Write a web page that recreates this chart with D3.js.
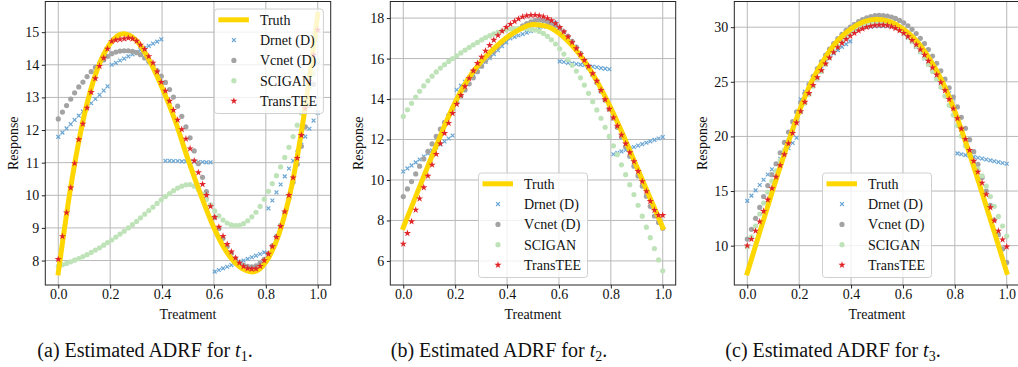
<!DOCTYPE html>
<html>
<head>
<meta charset="utf-8">
<script src="https://cdn.jsdelivr.net/npm/d3@7"></script>
<style>
  body { margin: 0; background: #fff; }
  svg { display: block; font-family: "Liberation Serif", "DejaVu Serif", serif; }
</style>
</head>
<body>
<svg id="fig" width="1018" height="367"></svg>
<script>
// treatment grid of the estimators (64 points) and of the truth curve
const treatment = [0.000, 0.016, 0.032, 0.048, 0.063, 0.079, 0.095, 0.111, 0.127, 0.143, 0.159, 0.175, 0.190, 0.206, 0.222, 0.238,
  0.254, 0.270, 0.286, 0.302, 0.317, 0.333, 0.349, 0.365, 0.381, 0.397, 0.413, 0.429, 0.444, 0.460, 0.476, 0.492,
  0.508, 0.524, 0.540, 0.556, 0.571, 0.587, 0.603, 0.619, 0.635, 0.651, 0.667, 0.683, 0.698, 0.714, 0.730, 0.746,
  0.762, 0.778, 0.794, 0.810, 0.825, 0.841, 0.857, 0.873, 0.889, 0.905, 0.921, 0.937, 0.952, 0.968, 0.984, 1.000];
const truthGrid = [0, 0.05, 0.1, 0.15, 0.2, 0.25, 0.3, 0.35, 0.4, 0.45, 0.5, 0.55, 0.6, 0.65, 0.7, 0.75, 0.8, 0.85, 0.9, 0.95, 1];

const xTicks = [0, 0.2, 0.4, 0.6, 0.8, 1.0];
const t1YTicks = [8, 9, 10, 11, 12, 13, 14, 15];
const t2YTicks = [6, 8, 10, 12, 14, 16, 18];
const t3YTicks = [10, 15, 20, 25, 30];
const seriesNames = ["Truth", "Drnet (D)", "Vcnet (D)", "SCIGAN", "TransTEE"];
const captionTags = ["(a)", "(b)", "(c)"];

// ---- t1 ----
const t1Truth = [7.62, 10.35, 12.45, 13.85, 14.65, 14.95, 14.75, 14.15, 13.3, 12.3, 11.1, 10.0, 9.0, 8.25, 7.8, 7.65, 7.95, 8.8, 10.3, 12.6, 15.55];
const t1Drnet = [11.79, 11.92, 12.05, 12.18, 12.31, 12.44, 12.57, 12.70, 12.82, 12.95, 13.08, 13.21, 13.34,
  14.00, 14.06, 14.13, 14.19, 14.26, 14.32, 14.39, 14.45, 14.52, 14.58, 14.65, 14.71, 14.78,
  11.06, 11.06, 11.05, 11.05, 11.04, 11.04, 11.03, 11.03, 11.02, 11.02, 11.01, 11.01,
  7.66, 7.71, 7.76, 7.81, 7.86, 7.91, 7.96, 8.00, 8.05, 8.10, 8.15, 8.20, 8.25,
  9.60, 9.84, 10.09, 10.33, 10.58, 10.82, 11.06, 11.31, 11.55, 11.80, 12.04, 12.29, 12.53];
const t1Vcnet = [12.34, 12.55, 12.75, 12.95, 13.14, 13.32, 13.47, 13.64, 13.79, 13.92, 14.04, 14.15, 14.26, 14.34, 14.39, 14.42,
  14.43, 14.43, 14.41, 14.37, 14.31, 14.21, 14.10, 13.98, 13.82, 13.65, 13.46, 13.24, 13.01, 12.73, 12.42, 12.10,
  11.76, 11.36, 10.97, 10.55, 10.11, 9.70, 9.32, 8.98, 8.68, 8.43, 8.22, 8.06, 7.94, 7.86, 7.82, 7.81,
  7.84, 7.92, 8.04, 8.22, 8.45, 8.74, 9.08, 9.47, 9.90, 10.40, 10.95, 11.50, 12.10, 12.75, 13.40, 14.10];
const t1Scigan = [7.83, 7.87, 7.91, 7.96, 8.01, 8.06, 8.12, 8.18, 8.25, 8.32, 8.39, 8.47, 8.55, 8.63, 8.72, 8.81,
  8.90, 9.00, 9.10, 9.20, 9.31, 9.42, 9.53, 9.64, 9.75, 9.86, 9.96, 10.05, 10.14, 10.22, 10.28, 10.32,
  10.33, 10.28, 10.18, 10.04, 9.87, 9.69, 9.52, 9.37, 9.24, 9.15, 9.09, 9.07, 9.08, 9.13, 9.22, 9.34,
  9.48, 9.66, 9.88, 10.12, 10.36, 10.60, 10.87, 11.16, 11.47, 11.80, 12.15, 12.52, 12.90, 13.30, 13.72, 14.15];
const t1TransTEE = [8.04, 8.74, 9.47, 10.23, 10.98, 11.71, 12.19, 12.68, 13.16, 13.58, 13.96, 14.21, 14.49, 14.72, 14.76, 14.78,
  14.80, 14.82, 14.80, 14.73, 14.61, 14.48, 14.26, 14.06, 13.79, 13.47, 13.20, 12.89, 12.61, 12.31, 12.02, 11.73,
  11.43, 11.06, 10.70, 10.34, 10.00, 9.66, 9.33, 9.03, 8.75, 8.50, 8.27, 8.08, 7.93, 7.82, 7.76, 7.74,
  7.75, 7.83, 8.00, 8.20, 8.43, 8.72, 9.05, 9.50, 10.00, 10.54, 11.14, 11.84, 12.66, 13.50, 14.30, 15.07];

// ---- t2 ----
const t2Truth = [7.65, 9.25, 10.85, 12.4, 13.85, 15.0, 15.85, 16.5, 17.05, 17.45, 17.68, 17.6, 17.25, 16.65, 15.85, 14.8, 13.55, 12.15, 10.65, 9.15, 7.65];
const t2Drnet = [10.42, 10.57, 10.72, 10.87, 11.01, 11.16, 11.31, 11.46, 11.61, 11.76, 11.90, 12.05, 12.20,
  14.46, 14.66, 14.85, 15.05, 15.24, 15.44, 15.63, 15.83, 16.02, 16.22, 16.41, 16.61, 16.80,
  17.00, 17.07, 17.14, 17.21, 17.28, 17.35, 17.43, 17.50, 17.57, 17.64, 17.71, 17.78,
  15.86, 15.83, 15.79, 15.76, 15.73, 15.70, 15.67, 15.63, 15.60, 15.57, 15.53, 15.50, 15.47,
  11.27, 11.34, 11.41, 11.48, 11.55, 11.63, 11.70, 11.77, 11.84, 11.91, 11.98, 12.05, 12.12];
const t2Vcnet = [9.18, 9.56, 9.92, 10.30, 10.68, 11.04, 11.41, 11.78, 12.15, 12.51, 12.85, 13.19, 13.52, 13.84, 14.15, 14.45,
  14.75, 15.05, 15.35, 15.62, 15.88, 16.12, 16.35, 16.57, 16.78, 16.98, 17.16, 17.33, 17.48, 17.62, 17.73, 17.82,
  17.88, 17.90, 17.88, 17.83, 17.75, 17.64, 17.50, 17.32, 17.10, 16.85, 16.57, 16.26, 15.90, 15.55, 15.20, 14.80,
  14.38, 13.95, 13.50, 13.05, 12.60, 12.13, 11.65, 11.17, 10.68, 10.20, 9.70, 9.20, 8.70, 8.22, 7.90, 7.62];
const t2Scigan = [13.14, 13.47, 13.79, 14.10, 14.38, 14.65, 14.90, 15.13, 15.34, 15.53, 15.70, 15.86, 16.00, 16.14, 16.28, 16.42,
  16.55, 16.68, 16.80, 16.92, 17.03, 17.13, 17.22, 17.30, 17.37, 17.42, 17.46, 17.48, 17.49, 17.49, 17.48, 17.45,
  17.41, 17.34, 17.24, 17.10, 16.93, 16.72, 16.48, 16.22, 15.95, 15.67, 15.38, 15.05, 14.69, 14.28, 13.87, 13.46,
  13.05, 12.60, 12.15, 11.69, 11.25, 10.75, 10.26, 9.77, 9.28, 8.75, 8.21, 7.67, 7.15, 6.61, 6.05, 5.51];
const t2TransTEE = [6.84, 7.37, 7.95, 8.52, 9.08, 9.63, 10.20, 10.75, 11.28, 11.80, 12.31, 12.81, 13.30, 13.75, 14.19, 14.62,
  15.02, 15.40, 15.77, 16.08, 16.38, 16.66, 16.92, 17.15, 17.36, 17.55, 17.70, 17.84, 17.96, 18.06, 18.12, 18.15,
  18.15, 18.12, 18.07, 17.99, 17.88, 17.74, 17.55, 17.33, 17.08, 16.80, 16.50, 16.20, 15.92, 15.62, 15.26, 14.89,
  14.44, 13.98, 13.51, 13.08, 12.67, 12.23, 11.79, 11.36, 10.92, 10.43, 9.93, 9.44, 8.95, 8.51, 8.26, 8.26];

// ---- t3 ----
const t3Truth = [7.5, 11.4, 15.2, 18.9, 22.3, 25.1, 27.2, 28.8, 29.85, 30.5, 30.73, 30.5, 29.85, 28.8, 27.2, 25.1, 22.3, 18.9, 15.2, 11.4, 7.55];
const t3Drnet = [14.10, 14.58, 15.06, 15.55, 16.03, 16.51, 16.99, 17.47, 17.96, 18.44, 18.92, 19.40, 19.88,
  23.40, 24.10, 24.75, 25.35, 25.90, 26.40, 26.85, 27.25, 27.60, 27.90, 28.20, 28.45, 28.70,
  29.75, 29.85, 29.93, 30.00, 30.05, 30.08, 30.10, 30.10, 30.08, 30.05, 30.00, 29.95,
  29.40, 29.05, 28.65, 28.20, 27.70, 27.15, 26.60, 26.05, 25.50, 24.95, 24.45, 23.95, 23.50,
  18.45, 18.37, 18.29, 18.21, 18.13, 18.05, 17.97, 17.89, 17.81, 17.73, 17.65, 17.57, 17.50];
const t3Vcnet = [10.6, 11.5, 12.5, 13.5, 14.5, 15.5, 16.5, 17.5, 18.5, 19.45, 20.4, 21.35, 22.25, 23.1, 23.95, 24.75,
  25.5, 26.2, 26.85, 27.45, 28.0, 28.5, 28.95, 29.35, 29.7, 30.0, 30.25, 30.5, 30.7, 30.85, 30.97, 31.05,
  31.08, 31.07, 31.02, 30.93, 30.8, 30.62, 30.4, 30.13, 29.8, 29.42, 28.98, 28.5, 27.95, 27.35, 26.7, 26.0,
  25.25, 24.45, 23.6, 22.7, 21.75, 20.75, 19.7, 18.6, 17.45, 16.25, 15.0, 13.7, 12.35, 11.0, 9.7, 8.47];
const t3Scigan = [9.9, 10.8, 11.8, 12.9, 13.9, 14.9, 15.9, 16.85, 17.8, 18.75, 19.65, 20.55, 21.4, 22.25, 23.05, 23.85,
  24.6, 25.3, 25.95, 26.6, 27.2, 27.75, 28.25, 28.7, 29.1, 29.45, 29.75, 30.0, 30.2, 30.35, 30.45, 30.5,
  30.5, 30.45, 30.35, 30.2, 30.0, 29.75, 29.45, 29.1, 28.7, 28.25, 27.75, 27.2, 26.6, 25.95, 25.25, 24.5,
  23.7, 22.85, 21.95, 21.0, 20.05, 19.15, 18.35, 17.6, 17.0, 16.4, 15.45, 14.5, 13.6, 12.68, 11.8, 10.88];
const t3TransTEE = [10.0, 10.6, 11.35, 12.2, 13.15, 14.2, 15.25, 16.3, 17.35, 18.35, 19.35, 20.3, 21.25, 22.3, 23.15, 23.95,
  24.7, 25.4, 26.05, 26.65, 27.2, 27.7, 28.15, 28.55, 28.9, 29.2, 29.45, 29.68, 29.86, 30.0, 30.1, 30.17,
  30.2, 30.2, 30.15, 30.05, 29.9, 29.7, 29.45, 29.15, 28.8, 28.4, 27.95, 27.45, 26.9, 26.3, 25.65, 24.95,
  24.2, 23.4, 22.55, 21.65, 20.7, 19.75, 18.75, 17.75, 16.75, 15.75, 14.7, 13.5, 12.3, 11.35, 10.55, 9.9];

const panels = [
  { left: 45.3, yDomain: [7.25, 15.94], yTicks: t1YTicks, sub: "1", legend: "upper right", captionX: 145,
    truth: t1Truth, drnet: t1Drnet, vcnet: t1Vcnet, scigan: t1Scigan, transtee: t1TransTEE },
  { left: 390.3, yDomain: [4.81, 18.82], yTicks: t2YTicks, sub: "2", legend: "lower center", captionX: 499,
    truth: t2Truth, drnet: t2Drnet, vcnet: t2Vcnet, scigan: t2Scigan, transtee: t2TransTEE },
  { left: 734.3, yDomain: [6.40, 32.35], yTicks: t3YTicks, sub: "3", legend: "lower center", captionX: 833,
    truth: t3Truth, drnet: t3Drnet, vcnet: t3Vcnet, scigan: t3Scigan, transtee: t3TransTEE }
];

const colors = {
  truth: "#ffd700",
  drnet: "#6aa6d4",
  vcnet: "#a3a3a3",
  scigan: "#bfe3b8",
  transtee: "#e0262a"
};

const axisTop = 1.5, axisBottom = 285, axisWidth = 285.4;
const svg = d3.select("#fig");

const starPath = d3.symbol().type(d3.symbolStar).size(16)();
const xPath = r => `M${-r},${-r}L${r},${r}M${-r},${r}L${r},${-r}`;
const dotR = 2.6;

function drawMarker(sel, kind) {
  if (kind === "drnet") {
    sel.append("path").attr("d", xPath(1.9))
      .attr("stroke", colors.drnet).attr("stroke-width", 1.2).attr("fill", "none");
  } else if (kind === "transtee") {
    sel.append("path").attr("d", starPath).attr("fill", colors.transtee);
  } else {
    sel.append("circle").attr("r", dotR).attr("fill", colors[kind]);
  }
}

panels.forEach((p, k) => {
  const x = d3.scaleLinear().domain([-0.05, 1.05]).range([p.left, p.left + axisWidth]);
  const y = d3.scaleLinear().domain(p.yDomain).range([axisBottom, axisTop]);
  const g = svg.append("g");

  // grid
  g.append("g").selectAll("line").data(xTicks).join("line")
    .attr("x1", d => x(d)).attr("x2", d => x(d))
    .attr("y1", axisTop).attr("y2", axisBottom)
    .attr("stroke", "#b8b8b8").attr("stroke-width", 1);
  g.append("g").selectAll("line").data(p.yTicks).join("line")
    .attr("x1", p.left).attr("x2", p.left + axisWidth)
    .attr("y1", d => y(d)).attr("y2", d => y(d))
    .attr("stroke", "#b8b8b8").attr("stroke-width", 1);

  // estimators drawn under the truth curve, TransTEE on top
  const pts = key => treatment.map((t, i) => ({ t, v: p[key][i] }));

  g.append("g").selectAll("path").data(pts("drnet")).join("path")
    .attr("transform", d => `translate(${x(d.t)},${y(d.v)})`)
    .attr("d", xPath(1.9))
    .attr("stroke", colors.drnet).attr("stroke-width", 1.2).attr("fill", "none");

  g.append("g").selectAll("circle").data(pts("vcnet")).join("circle")
    .attr("cx", d => x(d.t)).attr("cy", d => y(d.v)).attr("r", dotR)
    .attr("fill", colors.vcnet);

  g.append("g").selectAll("circle").data(pts("scigan")).join("circle")
    .attr("cx", d => x(d.t)).attr("cy", d => y(d.v)).attr("r", dotR)
    .attr("fill", colors.scigan);

  const line = d3.line().x((d, i) => x(truthGrid[i])).y(d => y(d)).curve(d3.curveMonotoneX);
  g.append("path").datum(p.truth)
    .attr("d", line)
    .attr("fill", "none").attr("stroke", colors.truth)
    .attr("stroke-width", 5).attr("stroke-linecap", "square");

  g.append("g").selectAll("path").data(pts("transtee")).join("path")
    .attr("transform", d => `translate(${x(d.t)},${y(d.v)})`)
    .attr("d", starPath)
    .attr("fill", colors.transtee);

  // axes
  g.append("rect")
    .attr("x", p.left).attr("y", axisTop)
    .attr("width", axisWidth).attr("height", axisBottom - axisTop)
    .attr("fill", "none").attr("stroke", "#262626").attr("stroke-width", 1);

  const xAxis = g.append("g").attr("transform", `translate(0,${axisBottom})`)
    .call(d3.axisBottom(x).tickValues(xTicks).tickFormat(d3.format(".1f")).tickSize(3.5).tickPadding(0.8));
  const yAxis = g.append("g").attr("transform", `translate(${p.left},0)`)
    .call(d3.axisLeft(y).tickValues(p.yTicks).tickFormat(d3.format("d")).tickSize(3.5).tickPadding(2.5));
  [xAxis, yAxis].forEach(a => {
    a.select(".domain").remove();
    a.selectAll("line").attr("stroke", "#262626");
    a.selectAll("text").attr("fill", "#111").style("font-size", "14px")
      .style("font-family", "'Liberation Serif', serif");
  });

  g.append("text")
    .attr("x", p.left + axisWidth / 2).attr("y", 318.5)
    .attr("text-anchor", "middle").style("font-size", "14px").attr("fill", "#111")
    .text("Treatment");
  g.append("text")
    .attr("transform", `translate(${p.left - 27.8},${(axisTop + axisBottom) / 2}) rotate(-90)`)
    .attr("text-anchor", "middle").style("font-size", "14px").attr("fill", "#111")
    .text("Response");

  // legend
  const boxW = 109, boxH = 104.5;
  let bx, by;
  if (p.legend === "upper right") {
    bx = p.left + axisWidth - 7.3 - boxW; by = axisTop + 7.5;
  } else {
    bx = p.left + axisWidth / 2 - boxW / 2; by = axisBottom - 7.5 - boxH;
  }
  const lg = g.append("g").attr("transform", `translate(${bx},${by})`);
  lg.append("rect").attr("width", boxW).attr("height", boxH).attr("rx", 3)
    .attr("fill", "#fff").attr("fill-opacity", 0.8)
    .attr("stroke", "#d0d0d0").attr("stroke-width", 1);
  const keys = ["truth", "drnet", "vcnet", "scigan", "transtee"];
  keys.forEach((key, j) => {
    const ry = 10.8 + j * 20.3;
    if (key === "truth") {
      lg.append("line").attr("x1", 4).attr("x2", 34.5).attr("y1", ry).attr("y2", ry)
        .attr("stroke", colors.truth).attr("stroke-width", 5);
    } else {
      drawMarker(lg.append("g").attr("transform", `translate(19.5,${ry})`), key);
    }
    lg.append("text").attr("x", 45.5).attr("y", ry).attr("dy", "0.35em")
      .style("font-size", "14px").attr("fill", "#111").text(seriesNames[j]);
  });

  // caption
  const cap = svg.append("text")
    .attr("x", p.captionX).attr("y", 357)
    .attr("text-anchor", "middle").style("font-size", "20px").attr("fill", "#111");
  cap.append("tspan").text(`${captionTags[k]} Estimated ADRF for `);
  cap.append("tspan").style("font-style", "italic").text("t");
  cap.append("tspan").attr("dy", 3.5).style("font-size", "14px").text(p.sub);
  cap.append("tspan").attr("dy", -3.5).text(".");
});
</script>
</body>
</html>
